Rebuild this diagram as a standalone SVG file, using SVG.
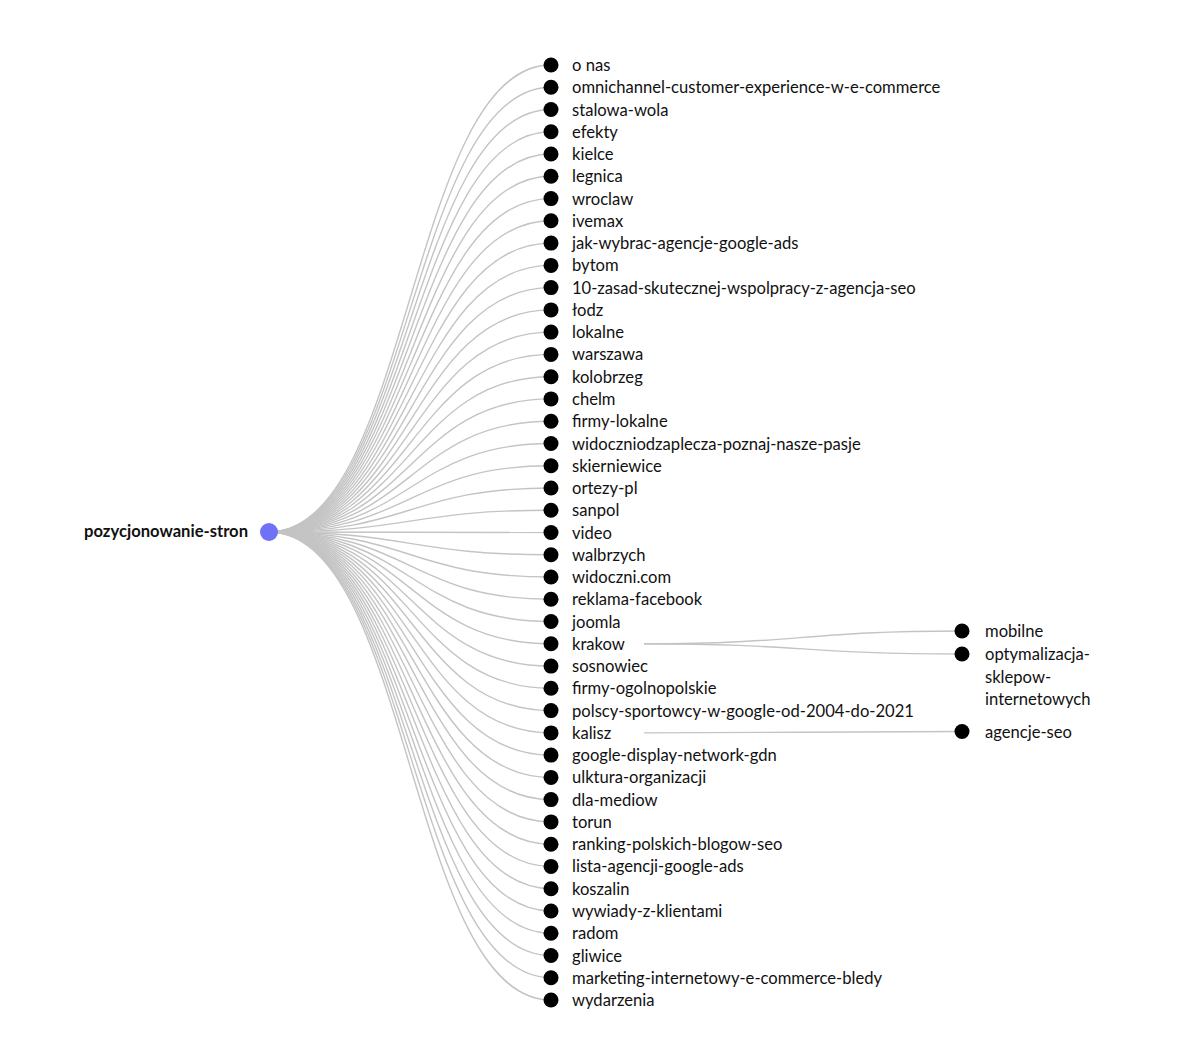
<svg xmlns="http://www.w3.org/2000/svg" width="1200" height="1057" viewBox="0 0 1200 1057">
<style>
.l{fill:none;stroke:#c4c4c4;stroke-width:1.4}
.n{fill:#000}
text{font-family:Lato,"Noto Sans",sans-serif;font-size:16.6px;fill:#111;dominant-baseline:central}
.root{font-weight:bold}
</style>
<rect width="1200" height="1057" fill="#fff"/>
<g id="links">
<path class="l" d="M269,532C410,532 410,65.0 551,65.0"/>
<path class="l" d="M269,532C410,532 410,87.3 551,87.3"/>
<path class="l" d="M269,532C410,532 410,109.5 551,109.5"/>
<path class="l" d="M269,532C410,532 410,131.8 551,131.8"/>
<path class="l" d="M269,532C410,532 410,154.0 551,154.0"/>
<path class="l" d="M269,532C410,532 410,176.3 551,176.3"/>
<path class="l" d="M269,532C410,532 410,198.6 551,198.6"/>
<path class="l" d="M269,532C410,532 410,220.8 551,220.8"/>
<path class="l" d="M269,532C410,532 410,243.1 551,243.1"/>
<path class="l" d="M269,532C410,532 410,265.4 551,265.4"/>
<path class="l" d="M269,532C410,532 410,287.6 551,287.6"/>
<path class="l" d="M269,532C410,532 410,309.9 551,309.9"/>
<path class="l" d="M269,532C410,532 410,332.1 551,332.1"/>
<path class="l" d="M269,532C410,532 410,354.4 551,354.4"/>
<path class="l" d="M269,532C410,532 410,376.7 551,376.7"/>
<path class="l" d="M269,532C410,532 410,398.9 551,398.9"/>
<path class="l" d="M269,532C410,532 410,421.2 551,421.2"/>
<path class="l" d="M269,532C410,532 410,443.5 551,443.5"/>
<path class="l" d="M269,532C410,532 410,465.7 551,465.7"/>
<path class="l" d="M269,532C410,532 410,488.0 551,488.0"/>
<path class="l" d="M269,532C410,532 410,510.2 551,510.2"/>
<path class="l" d="M269,532C410,532 410,532.5 551,532.5"/>
<path class="l" d="M269,532C410,532 410,554.8 551,554.8"/>
<path class="l" d="M269,532C410,532 410,577.0 551,577.0"/>
<path class="l" d="M269,532C410,532 410,599.3 551,599.3"/>
<path class="l" d="M269,532C410,532 410,621.5 551,621.5"/>
<path class="l" d="M269,532C410,532 410,643.8 551,643.8"/>
<path class="l" d="M269,532C410,532 410,666.1 551,666.1"/>
<path class="l" d="M269,532C410,532 410,688.3 551,688.3"/>
<path class="l" d="M269,532C410,532 410,710.6 551,710.6"/>
<path class="l" d="M269,532C410,532 410,732.9 551,732.9"/>
<path class="l" d="M269,532C410,532 410,755.1 551,755.1"/>
<path class="l" d="M269,532C410,532 410,777.4 551,777.4"/>
<path class="l" d="M269,532C410,532 410,799.6 551,799.6"/>
<path class="l" d="M269,532C410,532 410,821.9 551,821.9"/>
<path class="l" d="M269,532C410,532 410,844.2 551,844.2"/>
<path class="l" d="M269,532C410,532 410,866.4 551,866.4"/>
<path class="l" d="M269,532C410,532 410,888.7 551,888.7"/>
<path class="l" d="M269,532C410,532 410,911.0 551,911.0"/>
<path class="l" d="M269,532C410,532 410,933.2 551,933.2"/>
<path class="l" d="M269,532C410,532 410,955.5 551,955.5"/>
<path class="l" d="M269,532C410,532 410,977.7 551,977.7"/>
<path class="l" d="M269,532C410,532 410,1000.0 551,1000.0"/>
<path class="l" d="M644,643.8C803,643.8 803,631 962,631"/>
<path class="l" d="M644,643.8C803,643.8 803,654 962,654"/>
<path class="l" d="M644,732.9C803,732.9 803,731.5 962,731.5"/>
</g>
<g id="root"><circle cx="269" cy="532" r="9" fill="#6f72f6"/><text class="root" x="248" y="531" text-anchor="end">pozycjonowanie-stron</text></g>
<g id="n1"><circle class="n" cx="551" cy="65.0" r="7.5"/><text x="572" y="65.0">o nas</text></g>
<g id="n2"><circle class="n" cx="551" cy="87.3" r="7.5"/><text x="572" y="87.3">omnichannel-customer-experience-w-e-commerce</text></g>
<g id="n3"><circle class="n" cx="551" cy="109.5" r="7.5"/><text x="572" y="109.5">stalowa-wola</text></g>
<g id="n4"><circle class="n" cx="551" cy="131.8" r="7.5"/><text x="572" y="131.8">efekty</text></g>
<g id="n5"><circle class="n" cx="551" cy="154.0" r="7.5"/><text x="572" y="154.0">kielce</text></g>
<g id="n6"><circle class="n" cx="551" cy="176.3" r="7.5"/><text x="572" y="176.3">legnica</text></g>
<g id="n7"><circle class="n" cx="551" cy="198.6" r="7.5"/><text x="572" y="198.6">wroclaw</text></g>
<g id="n8"><circle class="n" cx="551" cy="220.8" r="7.5"/><text x="572" y="220.8">ivemax</text></g>
<g id="n9"><circle class="n" cx="551" cy="243.1" r="7.5"/><text x="572" y="243.1">jak-wybrac-agencje-google-ads</text></g>
<g id="n10"><circle class="n" cx="551" cy="265.4" r="7.5"/><text x="572" y="265.4">bytom</text></g>
<g id="n11"><circle class="n" cx="551" cy="287.6" r="7.5"/><text x="572" y="287.6">10-zasad-skutecznej-wspolpracy-z-agencja-seo</text></g>
<g id="n12"><circle class="n" cx="551" cy="309.9" r="7.5"/><text x="572" y="309.9">łodz</text></g>
<g id="n13"><circle class="n" cx="551" cy="332.1" r="7.5"/><text x="572" y="332.1">lokalne</text></g>
<g id="n14"><circle class="n" cx="551" cy="354.4" r="7.5"/><text x="572" y="354.4">warszawa</text></g>
<g id="n15"><circle class="n" cx="551" cy="376.7" r="7.5"/><text x="572" y="376.7">kolobrzeg</text></g>
<g id="n16"><circle class="n" cx="551" cy="398.9" r="7.5"/><text x="572" y="398.9">chelm</text></g>
<g id="n17"><circle class="n" cx="551" cy="421.2" r="7.5"/><text x="572" y="421.2">firmy-lokalne</text></g>
<g id="n18"><circle class="n" cx="551" cy="443.5" r="7.5"/><text x="572" y="443.5">widoczniodzaplecza-poznaj-nasze-pasje</text></g>
<g id="n19"><circle class="n" cx="551" cy="465.7" r="7.5"/><text x="572" y="465.7">skierniewice</text></g>
<g id="n20"><circle class="n" cx="551" cy="488.0" r="7.5"/><text x="572" y="488.0">ortezy-pl</text></g>
<g id="n21"><circle class="n" cx="551" cy="510.2" r="7.5"/><text x="572" y="510.2">sanpol</text></g>
<g id="n22"><circle class="n" cx="551" cy="532.5" r="7.5"/><text x="572" y="532.5">video</text></g>
<g id="n23"><circle class="n" cx="551" cy="554.8" r="7.5"/><text x="572" y="554.8">walbrzych</text></g>
<g id="n24"><circle class="n" cx="551" cy="577.0" r="7.5"/><text x="572" y="577.0">widoczni.com</text></g>
<g id="n25"><circle class="n" cx="551" cy="599.3" r="7.5"/><text x="572" y="599.3">reklama-facebook</text></g>
<g id="n26"><circle class="n" cx="551" cy="621.5" r="7.5"/><text x="572" y="621.5">joomla</text></g>
<g id="n27"><circle class="n" cx="551" cy="643.8" r="7.5"/><text x="572" y="643.8">krakow</text></g>
<g id="n28"><circle class="n" cx="551" cy="666.1" r="7.5"/><text x="572" y="666.1">sosnowiec</text></g>
<g id="n29"><circle class="n" cx="551" cy="688.3" r="7.5"/><text x="572" y="688.3">firmy-ogolnopolskie</text></g>
<g id="n30"><circle class="n" cx="551" cy="710.6" r="7.5"/><text x="572" y="710.6">polscy-sportowcy-w-google-od-2004-do-2021</text></g>
<g id="n31"><circle class="n" cx="551" cy="732.9" r="7.5"/><text x="572" y="732.9">kalisz</text></g>
<g id="n32"><circle class="n" cx="551" cy="755.1" r="7.5"/><text x="572" y="755.1">google-display-network-gdn</text></g>
<g id="n33"><circle class="n" cx="551" cy="777.4" r="7.5"/><text x="572" y="777.4">ulktura-organizacji</text></g>
<g id="n34"><circle class="n" cx="551" cy="799.6" r="7.5"/><text x="572" y="799.6">dla-mediow</text></g>
<g id="n35"><circle class="n" cx="551" cy="821.9" r="7.5"/><text x="572" y="821.9">torun</text></g>
<g id="n36"><circle class="n" cx="551" cy="844.2" r="7.5"/><text x="572" y="844.2">ranking-polskich-blogow-seo</text></g>
<g id="n37"><circle class="n" cx="551" cy="866.4" r="7.5"/><text x="572" y="866.4">lista-agencji-google-ads</text></g>
<g id="n38"><circle class="n" cx="551" cy="888.7" r="7.5"/><text x="572" y="888.7">koszalin</text></g>
<g id="n39"><circle class="n" cx="551" cy="911.0" r="7.5"/><text x="572" y="911.0">wywiady-z-klientami</text></g>
<g id="n40"><circle class="n" cx="551" cy="933.2" r="7.5"/><text x="572" y="933.2">radom</text></g>
<g id="n41"><circle class="n" cx="551" cy="955.5" r="7.5"/><text x="572" y="955.5">gliwice</text></g>
<g id="n42"><circle class="n" cx="551" cy="977.7" r="7.5"/><text x="572" y="977.7">marketing-internetowy-e-commerce-bledy</text></g>
<g id="n43"><circle class="n" cx="551" cy="1000.0" r="7.5"/><text x="572" y="1000.0">wydarzenia</text></g>
<g id="k1"><circle class="n" cx="962" cy="631" r="7.5"/><text x="985" y="631">mobilne</text></g>
<g id="k2"><circle class="n" cx="962" cy="654" r="7.5"/><text x="985" y="654">optymalizacja-</text><text x="985" y="676.5">sklepow-</text><text x="985" y="699">internetowych</text></g>
<g id="k3"><circle class="n" cx="962" cy="731.5" r="7.5"/><text x="985" y="731.5">agencje-seo</text></g>
</svg>
